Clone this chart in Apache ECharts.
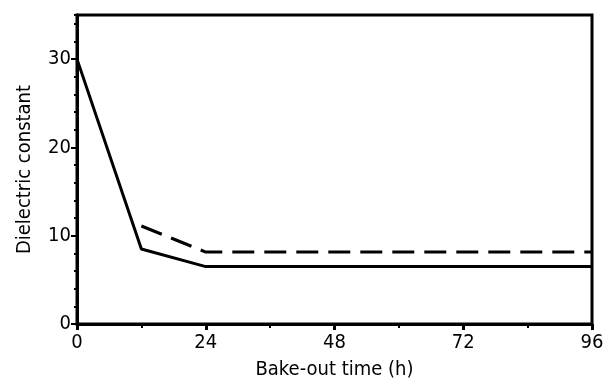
<!DOCTYPE html>
<html><head><meta charset="utf-8">
<script src="https://cdn.jsdelivr.net/npm/echarts@6/dist/echarts.min.js"></script>
<style>html,body{margin:0;padding:0;background:#fff}#c{width:610px;height:384px}</style>
</head><body><div id="c"></div>
<script>
const xTicks = [0, 24, 48, 72, 96];
const yTicks = [0, 10, 20, 30];
const solidX = [0, 12, 24, 96];
const solidY = [30, 8.5, 6.5, 6.5];
const dashedX = [12, 24, 96];
const dashedY = [11.1, 8.15, 8.15];
const xTitle = 'Bake-out time (h)';
const yTitle = 'Dielectric constant';

const font = 'DejaVu Sans Condensed';
const chart = echarts.init(document.getElementById('c'));
const pairs = (xs, ys) => xs.map((x, i) => [x, ys[i]]);
chart.setOption({
  animation: false,
  grid: { left: 77, right: 18, top: 15, bottom: 60, containLabel: false, outerBoundsMode: 'none',
    show: true, borderColor: '#000', borderWidth: 3 },
  xAxis: [{
    type: 'value', min: 0, max: 96, interval: 24,
    name: xTitle, nameLocation: 'middle', nameGap: 36,
    nameTextStyle: { fontFamily: font, fontSize: 20, color: '#000' },
    axisLine: { lineStyle: { color: '#000', width: 3 } },
    axisTick: { show: true, length: 6, lineStyle: { color: '#000', width: 3 } },
    minorTick: { show: true, splitNumber: 2, length: 4, lineStyle: { color: '#000', width: 2 } },
    axisLabel: { fontFamily: font, fontSize: 20, color: '#000', margin: 9,
      formatter: v => xTicks.includes(v) ? String(v) : '' },
    splitLine: { show: false }
  }],
  yAxis: [{
    type: 'value', min: 0, max: 35, interval: 10,
    name: yTitle, nameLocation: 'middle', nameGap: 42,
    nameTextStyle: { fontFamily: font, fontSize: 20, color: '#000' },
    axisLine: { lineStyle: { color: '#000', width: 3 } },
    axisTick: { show: true, length: 6, lineStyle: { color: '#000', width: 2 } },
    axisLabel: { fontFamily: font, fontSize: 20, color: '#000', margin: 6, showMaxLabel: false,
      formatter: v => yTicks.includes(v) ? String(v) : '' },
    splitLine: { show: false }
  }, {
    type: 'value', min: 0, max: 35, interval: 2, position: 'left',
    axisLine: { show: false },
    axisTick: { show: true, length: 3, lineStyle: { color: '#000', width: 2 } },
    axisLabel: { show: false },
    splitLine: { show: false }
  }],
  series: [{
    type: 'line', data: pairs(solidX, solidY), symbol: 'none',
    lineStyle: { color: '#000', width: 3 }
  }, {
    type: 'line', data: pairs(dashedX, dashedY), symbol: 'none',
    lineStyle: { color: '#000', width: 3, type: [22, 10] }
  }]
});
</script></body></html>
